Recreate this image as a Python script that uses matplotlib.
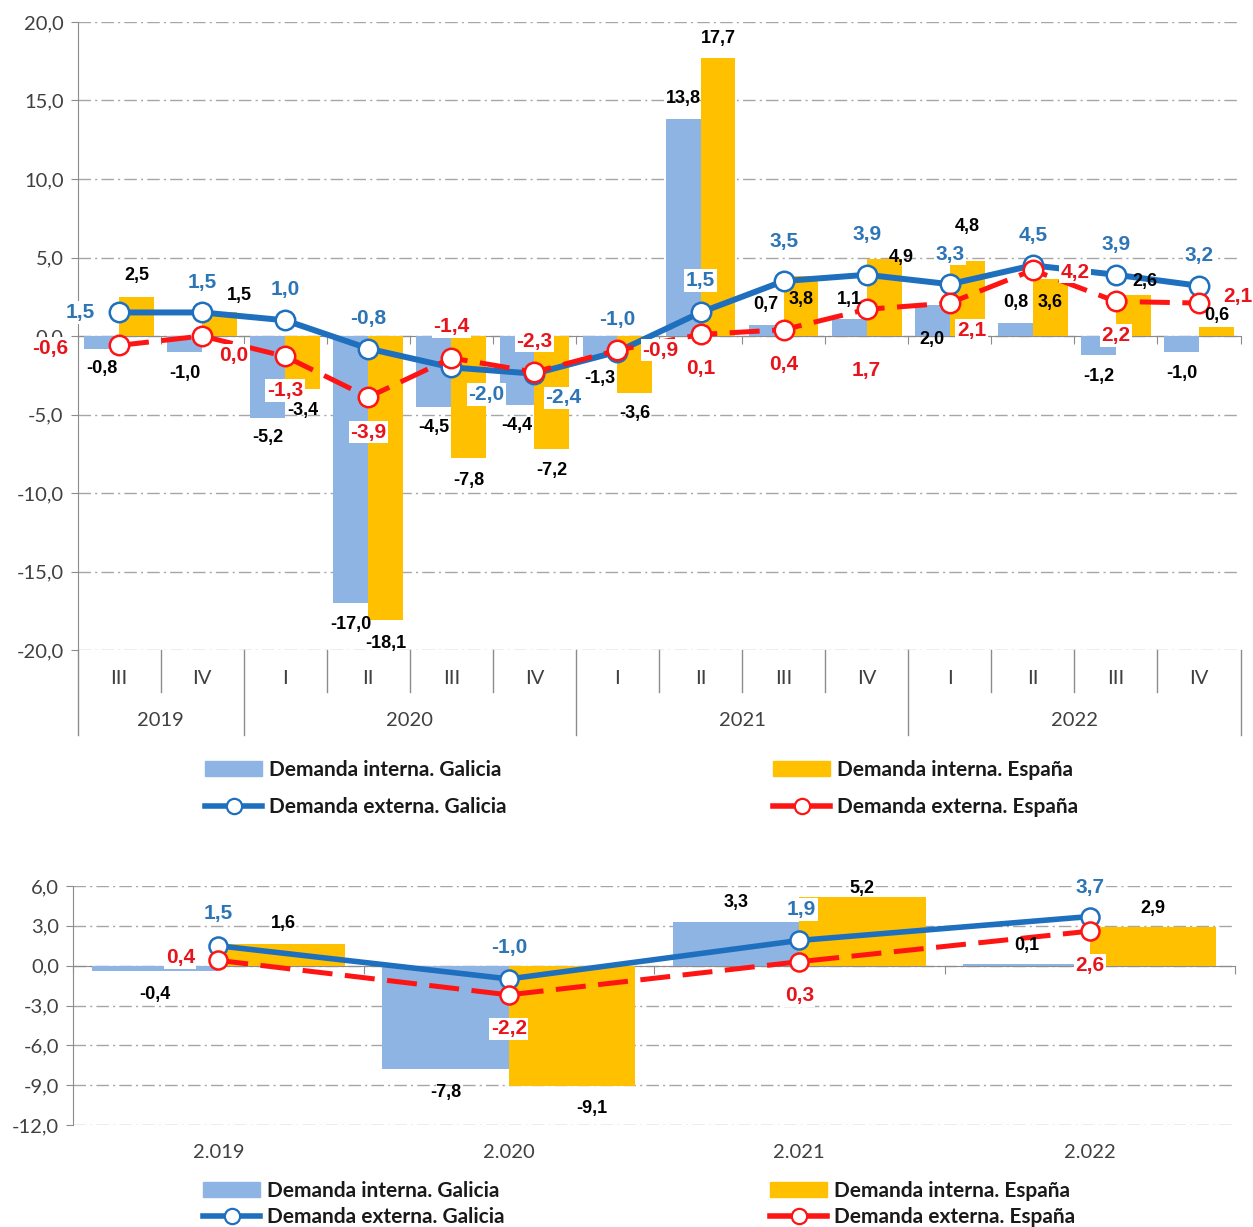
import numpy as np
import matplotlib.pyplot as plt
from matplotlib.lines import Line2D
from matplotlib.patches import Patch
from matplotlib.transforms import blended_transform_factory

# --- quarterly data (top chart) ---
quarters = ['III', 'IV', 'I', 'II', 'III', 'IV', 'I', 'II', 'III', 'IV', 'I', 'II', 'III', 'IV']
years_q = ['2019', '2020', '2021', '2022']
quarters_per_year = [2, 4, 4, 4]
int_galicia_q = [-0.8, -1.0, -5.2, -17.0, -4.5, -4.4, -1.3, 13.8, 0.7, 1.1, 2.0, 0.8, -1.2, -1.0]
int_espana_q = [2.5, 1.5, -3.4, -18.1, -7.8, -7.2, -3.6, 17.7, 3.8, 4.9, 4.8, 3.6, 2.6, 0.6]
ext_galicia_q = [1.5, 1.5, 1.0, -0.8, -2.0, -2.4, -1.0, 1.5, 3.5, 3.9, 3.3, 4.5, 3.9, 3.2]
ext_espana_q = [-0.6, 0.0, -1.3, -3.9, -1.4, -2.3, -0.9, 0.1, 0.4, 1.7, 2.1, 4.2, 2.2, 2.1]

# --- annual data (bottom chart) ---
years_a = ['2.019', '2.020', '2.021', '2.022']
int_galicia_a = [-0.4, -7.8, 3.3, 0.1]
int_espana_a = [1.6, -9.1, 5.2, 2.9]
ext_galicia_a = [1.5, -1.0, 1.9, 3.7]
ext_espana_a = [0.4, -2.2, 0.3, 2.6]

series_names = ['Demanda interna. Galicia', 'Demanda interna. España',
                'Demanda externa. Galicia', 'Demanda externa. España']

# label offsets in pixels (dx, dy up) -- placement only
off_int_gal_q = [(0, -20), (0, -22), (0, -20), (0, -22), (0, -21), (0, -20), (0, -22),
                 (0, 21), (0, 21), (0, 19), (0, -35), (0, 21), (0, -22), (0, -22)]
off_int_esp_q = [(0, 21), (20, 17), (0, -21), (0, -23), (0, -22), (0, -21), (0, -21),
                 (0, 20), (0, -23), (17, 2), (0, 34), (0, -23), (12, 14), (0, 11)]
off_ext_gal_q = [(-39, 0), (0, 30), (0, 31), (0, 30), (35, -27), (29, -24), (0, 32),
                 (0, 32), (0, 40), (0, 40), (0, 30), (0, 30), (0, 30), (0, 30)]
off_ext_esp_q = [(-69, -3), (32, -19), (0, -34), (0, -35), (0, 31), (0, 31), (43, 0),
                 (0, -34), (0, -35), (0, -61), (22, -27), (42, -2), (0, -34), (39, 7)]
off_int_gal_a = [(0, -24), (0, -23), (0, 19), (0, 19)]
off_int_esp_a = [(2, 21), (20, -22), (0, 8), (0, 19)]
off_ext_gal_a = [(0, 32), (0, 31), (2, 31), (0, 29)]
off_ext_esp_a = [(-38, 3), (0, -34), (0, -34), (0, -34)]

C_BAR_GAL = '#8EB4E3'
C_BAR_ESP = '#FFC000'
C_LINE_GAL = '#1F6FBF'
C_TEXT_GAL = '#2E75B6'
C_LINE_ESP = '#FF1414'
C_TEXT_ESP = '#E8141B'
C_GRID = '#A6A6A6'
C_AXIS = '#8C8C8C'
C_TICK = '#404040'
TICK_FONT = ['Lato', 'DejaVu Sans']
LABEL_FONT = ['Liberation Sans', 'DejaVu Sans']
GRID_STYLE = (0, (9, 3, 1.5, 3))
TICK_SIZE = 14.5


def fmt(v):
    return f'{v:.1f}'.replace('.', ',')


def put_label(ax, x, y, v, off, color, size, box):
    bbox = dict(fc='white', ec='none', pad=1.2) if box else None
    ax.annotate(fmt(v), (x, y), xytext=off, textcoords='offset pixels',
                ha='center', va='center', color=color, fontsize=size,
                fontweight='bold', family=LABEL_FONT, zorder=10, bbox=bbox,
                annotation_clip=False)


def style_axes(ax, yticks):
    ax.set_ylim(yticks[0], yticks[-1])
    ax.set_yticks(yticks)
    ax.set_yticklabels([fmt(t) for t in yticks], family=TICK_FONT,
                       fontsize=TICK_SIZE, color=C_TICK)
    ax.yaxis.grid(True, linestyle=GRID_STYLE, color=C_GRID, lw=1)
    ax.set_axisbelow(True)
    for s in ['top', 'right']:
        ax.spines[s].set_visible(False)
    ax.spines['left'].set_color(C_AXIS)
    ax.spines['bottom'].set_color(C_AXIS)
    ax.spines['bottom'].set_position(('data', 0))
    ax.spines['bottom'].set_zorder(1)
    ax.tick_params(axis='y', direction='out', length=5, color=C_AXIS, pad=5)
    ax.tick_params(axis='x', direction='out', length=6, color=C_AXIS,
                   labelbottom=False)


def draw_chart(ax, ig, ie, eg, ee, width, offs, lw_gal, lw_esp, ms, lsize, bsize):
    x = np.arange(len(ig))
    ax.bar(x - width / 2, ig, width, color=C_BAR_GAL, zorder=2)
    ax.bar(x + width / 2, ie, width, color=C_BAR_ESP, zorder=2)
    ax.plot(x, eg, color=C_LINE_GAL, lw=lw_gal, marker='o', ms=ms,
            mfc='white', mec=C_LINE_GAL, mew=1.8, zorder=4)
    ax.plot(x, ee, color=C_LINE_ESP, lw=lw_esp, ls=(0, (6, 2.5)), marker='o',
            ms=ms, mfc='white', mec=C_LINE_ESP, mew=1.8, zorder=5)
    ax.set_xlim(-0.5, len(ig) - 0.5)
    ax.set_xticks(np.arange(-0.5, len(ig), 1))
    for i in range(len(ig)):
        put_label(ax, x[i] - width / 2, ig[i], ig[i], offs[0][i], 'black', bsize, False)
        put_label(ax, x[i] + width / 2, ie[i], ie[i], offs[1][i], 'black', bsize, False)
        put_label(ax, x[i], eg[i], eg[i], offs[2][i], C_TEXT_GAL, lsize, True)
        put_label(ax, x[i], ee[i], ee[i], offs[3][i], C_TEXT_ESP, lsize, True)


def add_legend(fig, x_left, x_right, y_top, spacing):
    gal = [Patch(color=C_BAR_GAL),
           Line2D([], [], color=C_LINE_GAL, lw=4, marker='o', ms=11,
                  mfc='white', mec=C_LINE_GAL, mew=1.6)]
    esp = [Patch(color=C_BAR_ESP),
           Line2D([], [], color=C_LINE_ESP, lw=4, marker='o', ms=11,
                  mfc='white', mec=C_LINE_ESP, mew=1.6)]
    props = dict(family=TICK_FONT, weight='bold', size=15)
    for handles, names, xl in [(gal, [series_names[0], series_names[2]], x_left),
                               (esp, [series_names[1], series_names[3]], x_right)]:
        leg = fig.legend(handles, names, loc='upper left',
                         bbox_to_anchor=(xl / W, 1 - y_top / H), frameon=False,
                         prop=props, handlelength=2.75, handletextpad=0.3,
                         borderpad=0, borderaxespad=0, labelspacing=spacing)
        for t in leg.get_texts():
            t.set_color('#1A1A1A')


W, H = 1253, 1227
fig = plt.figure(figsize=(W / 100, H / 100), dpi=100)

# ---------------- top chart ----------------
ax1 = fig.add_axes([77.5 / W, 1 - 650 / H, 1163 / W, 628 / H])
style_axes(ax1, np.arange(-20, 21, 5))
draw_chart(ax1, int_galicia_q, int_espana_q, ext_galicia_q, ext_espana_q, 0.42,
           [off_int_gal_q, off_int_esp_q, off_ext_gal_q, off_ext_esp_q],
           4.3, 3.6, 14, 15, 13)

trans = blended_transform_factory(ax1.transData, ax1.transAxes)
bounds = np.cumsum([0] + quarters_per_year)
for b in np.arange(-0.5, len(quarters), 1):
    long_line = (b + 0.5) in bounds
    ax1.plot([b, b], [0, -0.135 if long_line else -0.067], color=C_AXIS, lw=1,
             transform=trans, clip_on=False)
for i, q in enumerate(quarters):
    ax1.text(i, -0.0446, q, transform=trans, ha='center', va='center',
             family=TICK_FONT, fontsize=TICK_SIZE, color=C_TICK)
for k, yr in enumerate(years_q):
    mid = (bounds[k] + bounds[k + 1] - 1) / 2
    ax1.text(mid, -0.113, yr, transform=trans, ha='center', va='center',
             family=TICK_FONT, fontsize=TICK_SIZE, color=C_TICK)

add_legend(fig, 205, 773, 760, 0.83)

# ---------------- bottom chart ----------------
ax2 = fig.add_axes([73 / W, 1 - 1125 / H, 1162 / W, 239 / H])
style_axes(ax2, np.arange(-12, 7, 3))
draw_chart(ax2, int_galicia_a, int_espana_a, ext_galicia_a, ext_espana_a, 0.435,
           [off_int_gal_a, off_int_esp_a, off_ext_gal_a, off_ext_esp_a],
           4.0, 3.6, 13, 15, 13)
trans2 = blended_transform_factory(ax2.transData, ax2.transAxes)
for i, yr in enumerate(years_a):
    ax2.text(i, -0.117, yr, transform=trans2, ha='center', va='center',
             family=TICK_FONT, fontsize=TICK_SIZE, color=C_TICK)

add_legend(fig, 203, 770, 1181, 0.3)

fig.savefig('out.png', dpi=100)
